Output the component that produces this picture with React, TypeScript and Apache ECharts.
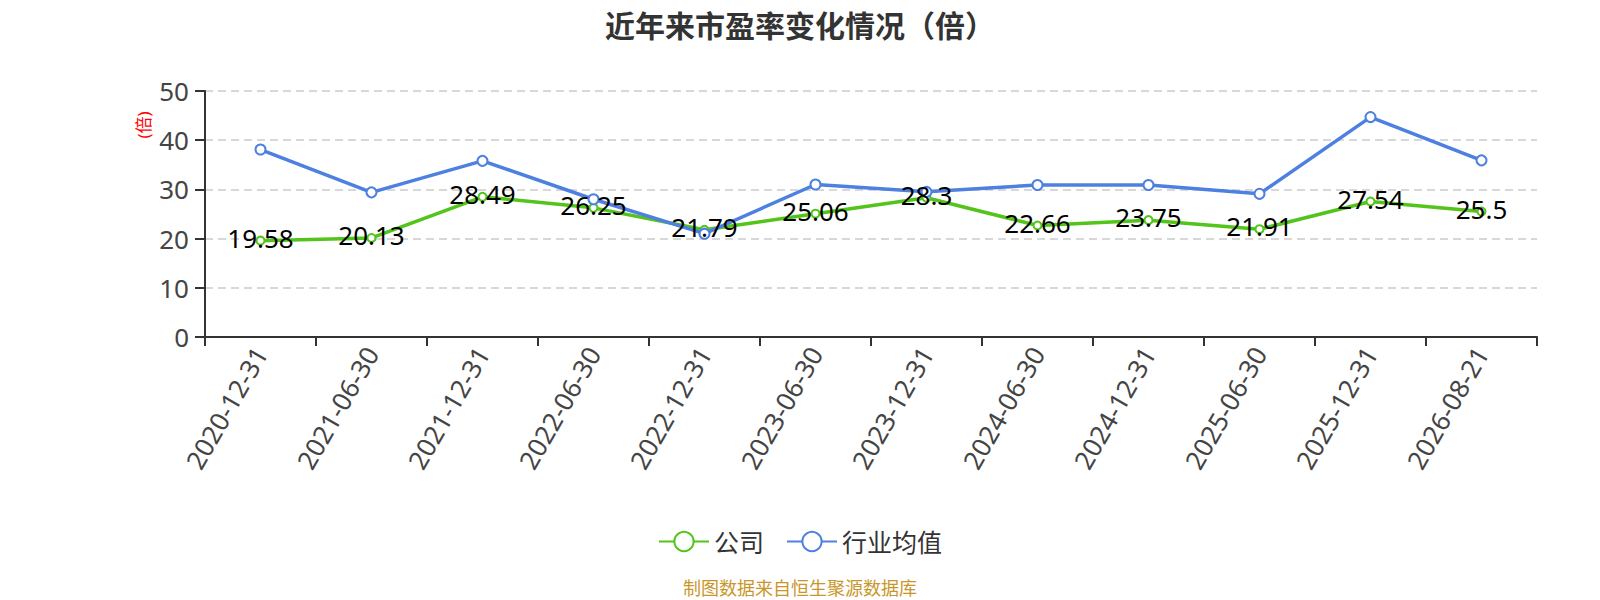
import React, { useEffect, useRef } from "react";
import * as echarts from "echarts";

const categories = [
  "2020-12-31", "2021-06-30", "2021-12-31", "2022-06-30", "2022-12-31", "2023-06-30",
  "2023-12-31", "2024-06-30", "2024-12-31", "2025-06-30", "2025-12-31", "2026-08-21",
];
const companyValues = [19.58, 20.13, 28.49, 26.25, 21.79, 25.06, 28.3, 22.66, 23.75, 21.91, 27.54, 25.5];
const industryValues = [38.1, 29.4, 35.8, 28.0, 21.0, 31.0, 29.5, 30.9, 30.9, 29.1, 44.7, 35.9];
const seriesNames = ["公司", "行业均值"];
const titleText = "近年来市盈率变化情况（倍）";
const unitText = "(倍)";
const footerText = "制图数据来自恒生聚源数据库";

const FONT = '"Noto Sans", "Noto Sans CJK SC", sans-serif';
const GREEN = "#52c41a";
const BLUE = "#4d80e0";

export default function App() {
  const ref = useRef<HTMLDivElement>(null);
  useEffect(() => {
    document.body.style.margin = "0";
    const chart = echarts.init(ref.current!, null, { renderer: "svg" });
    chart.setOption({
      animation: false,
      backgroundColor: "#fff",
      textStyle: { fontFamily: FONT },
      title: {
        text: titleText,
        left: "center",
        top: 5,
        textStyle: { fontSize: 30, fontWeight: "bold", color: "#333", fontFamily: FONT },
      },
      grid: { left: 205, right: 63, top: 91, bottom: 263, containLabel: false },
      legend: {
        data: seriesNames,
        left: "center",
        top: 524,
        itemWidth: 50,
        itemHeight: 24,
        itemGap: 22,
        textStyle: { fontSize: 25, color: "#333", fontFamily: FONT },
      },
      xAxis: {
        type: "category",
        data: categories,
        boundaryGap: true,
        axisLine: { lineStyle: { color: "#333", width: 2 } },
        axisTick: { show: true, length: 9, lineStyle: { color: "#333", width: 2 } },
        axisLabel: { rotate: 60, fontSize: 26, color: "#444", margin: 12, interval: 0, fontFamily: FONT },
      },
      yAxis: {
        type: "value",
        min: 0,
        max: 50,
        interval: 10,
        axisLine: { show: true, lineStyle: { color: "#333", width: 2 } },
        axisTick: { show: true, length: 10, lineStyle: { color: "#333", width: 2 } },
        axisLabel: { fontSize: 26, color: "#444", margin: 16, fontFamily: FONT },
        splitLine: { show: true, lineStyle: { color: "#ccc", width: 1.5, type: [8, 5] } },
      },
      graphic: [
        {
          type: "text",
          x: 143,
          y: 125,
          rotation: Math.PI / 2,
          style: {
            text: unitText,
            fill: "#f00",
            fontSize: 17,
            fontFamily: FONT,
            align: "center",
            verticalAlign: "middle",
          },
        },
        {
          type: "text",
          x: 800,
          y: 588,
          style: {
            text: footerText,
            fill: "#c9962b",
            fontSize: 18,
            fontFamily: FONT,
            align: "center",
            verticalAlign: "middle",
          },
        },
      ],
      series: [
        {
          name: seriesNames[0],
          type: "line",
          data: companyValues,
          symbol: "emptyCircle",
          symbolSize: 8,
          color: GREEN,
          lineStyle: { color: GREEN, width: 3.5 },
          itemStyle: { color: GREEN, borderWidth: 2 },
          label: {
            show: true,
            position: "inside",
            offset: [0, -3],
            color: "#000",
            fontSize: 26,
            fontFamily: FONT,
          },
        },
        {
          name: seriesNames[1],
          type: "line",
          data: industryValues,
          symbol: "emptyCircle",
          symbolSize: 10,
          color: BLUE,
          lineStyle: { color: BLUE, width: 3.5 },
          itemStyle: { color: BLUE, borderWidth: 2 },
        },
      ],
    });
    return () => chart.dispose();
  }, []);
  return <div ref={ref} style={{ width: 1600, height: 600 }} />;
}
